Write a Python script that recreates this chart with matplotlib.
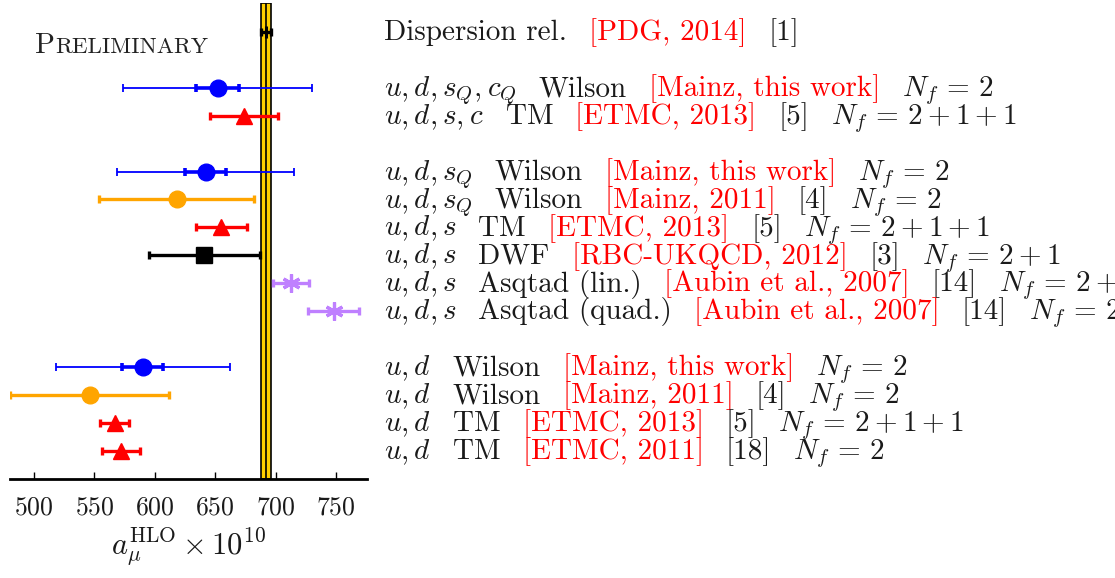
import matplotlib
matplotlib.use("Agg")
import matplotlib.pyplot as plt

plt.rcParams['font.family'] = ['cmr10']
plt.rcParams['mathtext.fontset'] = 'cm'
plt.rcParams['axes.formatter.use_mathtext'] = True

# ---------------- data ----------------
# groups of entries (top to bottom); one empty row between groups
group_sizes = [1, 2, 6, 4]
values = [692.3, 652, 674, 642, 618, 655, 641, 713, 748, 590, 546, 567, 572]
total_err = [4.2, 78, 28, 73, 64, 21, 46, 15, 21, 72, 66, 12, 16]
stat_err = [None, 18, None, 17, None, None, None, None, None, 17, None, None, None]
kinds = ['disp', 'mainz', 'etmc', 'mainz', 'mainz11', 'etmc', 'rbc', 'aubin', 'aubin',
         'mainz', 'mainz11', 'etmc', 'etmc']
band_center = 692.3
band_err = 4.2
xticks = [500, 550, 600, 650, 700, 750]

K = '#1a1a1a'
R = '#ff0000'
NF2 = r"$N_f\,=\,2$"
NF4 = r"$N_f\,=\,2+1+1$"
NF3 = r"$N_f\,=\,2+1$"
labels = [
    [("Dispersion rel.", K), ("[PDG, 2014]", R), ("[1]", K)],
    [("$u,d,s_Q,c_Q$", K), ("Wilson", K), ("[Mainz, this work]", R), (NF2, K)],
    [("$u,d,s,c$", K), ("TM", K), ("[ETMC, 2013]", R), ("[5]", K), (NF4, K)],
    [("$u,d,s_Q$", K), ("Wilson", K), ("[Mainz, this work]", R), (NF2, K)],
    [("$u,d,s_Q$", K), ("Wilson", K), ("[Mainz, 2011]", R), ("[4]", K), (NF2, K)],
    [("$u,d,s$", K), ("TM", K), ("[ETMC, 2013]", R), ("[5]", K), (NF4, K)],
    [("$u,d,s$", K), ("DWF", K), ("[RBC-UKQCD, 2012]", R), ("[3]", K), (NF3, K)],
    [("$u,d,s$", K), ("Asqtad (lin.)", K), ("[Aubin et al., 2007]", R), ("[14]", K), (NF3, K)],
    [("$u,d,s$", K), ("Asqtad (quad.)", K), ("[Aubin et al., 2007]", R), ("[14]", K), (NF3, K)],
    [("$u,d$", K), ("Wilson", K), ("[Mainz, this work]", R), (NF2, K)],
    [("$u,d$", K), ("Wilson", K), ("[Mainz, 2011]", R), ("[4]", K), (NF2, K)],
    [("$u,d$", K), ("TM", K), ("[ETMC, 2013]", R), ("[5]", K), (NF4, K)],
    [("$u,d$", K), ("TM", K), ("[ETMC, 2011]", R), ("[18]", K), (NF2, K)],
]

# ---------------- styles ----------------
asterisk = (6, 2, 0)
styles = {
    'disp':    dict(color='black', marker='|', ms=9, mew=2.2, lw=2.4),
    'mainz':   dict(color='#0000ff', marker='o', ms=12, lw=1.3),
    'mainz11': dict(color='#ffa500', marker='o', ms=12, lw=2.4),
    'etmc':    dict(color='#ff0000', marker='^', ms=11, lw=2.4),
    'rbc':     dict(color='black', marker='s', ms=12, lw=2.4),
    'aubin':   dict(color='#bf80ff', marker=asterisk, ms=13, mew=2.3, lw=2.4),
}

# row positions from group structure
rows = []
r = 0
for gs in group_sizes:
    for i in range(gs):
        rows.append(r)
        r += 1
    r += 1

W, H = 1115, 578
fig = plt.figure(figsize=(W / 100, H / 100), dpi=100)
ax = fig.add_axes([10 / W, 1 - 479 / H, 357 / W, 476 / H])

ax.set_xlim(480.1, 775.7)
ax.set_ylim(16.02, -1.04)

# band
ax.axvspan(band_center - band_err, band_center + band_err, facecolor='#ffcf00',
           edgecolor='black', lw=1.2, zorder=1)
ax.axvline(band_center, color='black', lw=1.2, zorder=1.5)

for y, v, te, se, kd in zip(rows, values, total_err, stat_err, kinds):
    st = styles[kd]
    ax.errorbar([v], [y], xerr=[te], fmt='none', ecolor=st['color'], elinewidth=st['lw'],
                capsize=3, capthick=st['lw'], zorder=3)
    if se is not None:
        ax.errorbar([v], [y], xerr=[se], fmt='none', ecolor=st['color'], elinewidth=2.6,
                    capsize=3, capthick=2.6, zorder=3)
    ax.plot([v], [y], linestyle='none', marker=st['marker'], ms=st['ms'],
            color=st['color'], mec=st['color'], mew=st.get('mew', 1.0), zorder=4)

for s in ['left', 'right', 'top']:
    ax.spines[s].set_visible(False)
ax.spines['bottom'].set_linewidth(2.0)
ax.set_yticks([])
ax.set_xticks(xticks)
ax.tick_params(axis='x', direction='in', length=5, width=1, labelsize=18.5, pad=12,
               labelcolor='#1a1a1a')
ax.set_xlabel(r"$a_\mu^{\rm HLO}\times 10^{10}$", fontsize=22, labelpad=4, color='#1a1a1a')

# labels on the right, laid out segment by segment
fig.canvas.draw()
renderer = fig.canvas.get_renderer()
x0 = 384
gap = 22
for y, segs in zip(rows, labels):
    x = x0
    for j, (txt, col) in enumerate(segs):
        if j > 0:
            x += gap
        t = ax.annotate(txt, xy=(x, y + 0.30), xycoords=('figure pixels', 'data'),
                        ha='left', va='baseline', fontsize=21, color=col,
                        annotation_clip=False)
        bb = t.get_window_extent(renderer)
        x = bb.x1

# Preliminary in small caps
tP = fig.text(35 / W, 1 - 53 / H, "P", fontsize=21, color='#222222', va='baseline', ha='left')
bb = tP.get_window_extent(renderer)
fig.text(bb.x1 / W, 1 - 53 / H, "RELIMINARY", fontsize=16.5, color='#222222',
         va='baseline', ha='left')

fig.savefig("out.png", dpi=100)
